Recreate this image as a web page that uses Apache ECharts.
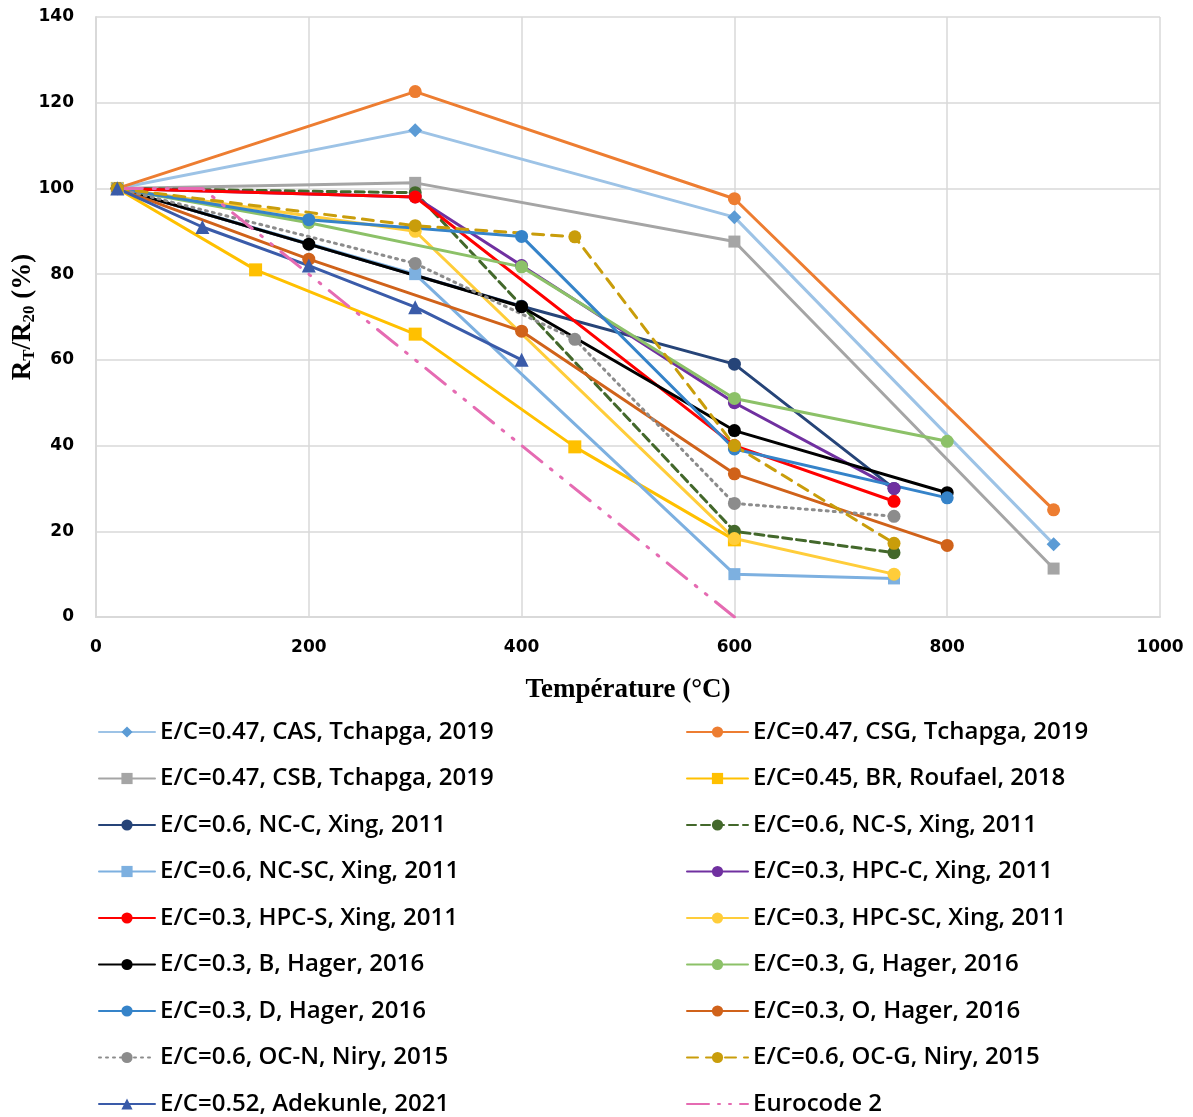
<!DOCTYPE html>
<html>
<head>
<meta charset="utf-8">
<script src="https://cdn.jsdelivr.net/npm/echarts@6/dist/echarts.min.js"></script>
<style>
html,body{margin:0;padding:0;background:#fff;}
#chart{width:1193px;height:1117px;}
</style>
</head>
<body>
<div id="chart"></div>
<script>
// ---- Data (temperature °C, R_T/R_20 %) ----
const names = [
  'E/C=0.47, CAS, Tchapga, 2019',
  'E/C=0.47, CSG, Tchapga, 2019',
  'E/C=0.47, CSB, Tchapga, 2019',
  'E/C=0.45, BR, Roufael, 2018',
  'E/C=0.6, NC-C, Xing, 2011',
  'E/C=0.6, NC-S, Xing, 2011',
  'E/C=0.6, NC-SC, Xing, 2011',
  'E/C=0.3, HPC-C, Xing, 2011',
  'E/C=0.3, HPC-S, Xing, 2011',
  'E/C=0.3, HPC-SC, Xing, 2011',
  'E/C=0.3, B, Hager, 2016',
  'E/C=0.3, G, Hager, 2016',
  'E/C=0.3, D, Hager, 2016',
  'E/C=0.3, O, Hager, 2016',
  'E/C=0.6, OC-N, Niry, 2015',
  'E/C=0.6, OC-G, Niry, 2015',
  'E/C=0.52, Adekunle, 2021',
  'Eurocode 2'
];
const tCAS = [20, 300, 600, 900];            const vCAS = [100, 113.6, 93.3, 17];
const tCSG = [20, 300, 600, 900];            const vCSG = [100, 122.6, 97.6, 25];
const tCSB = [20, 300, 600, 900];            const vCSB = [100, 101.3, 87.6, 11.3];
const tBR = [20, 150, 300, 450, 600];        const vBR = [100, 81, 66, 39.7, 18];
const tNCC = [20, 400, 600, 750];            const vNCC = [100, 72.5, 59, 30];
const tNCS = [20, 300, 600, 750];            const vNCS = [100, 99, 20, 15];
const tNCSC = [20, 300, 600, 750];           const vNCSC = [100, 80, 10, 9];
const tHPCC = [20, 300, 400, 600, 750];      const vHPCC = [100, 98, 82, 50, 30];
const tHPCS = [20, 300, 600, 750];           const vHPCS = [100, 98, 40, 27];
const tHPCSC = [20, 300, 600, 750];          const vHPCSC = [100, 90, 18.3, 10];
const tB = [20, 200, 400, 600, 800];         const vB = [100, 87, 72.4, 43.5, 29];
const tG = [20, 200, 400, 600, 800];         const vG = [100, 92, 81.7, 51, 41];
const tD = [20, 200, 400, 600, 800];         const vD = [100, 92.7, 88.8, 39.2, 27.8];
const tO = [20, 200, 400, 600, 800];         const vO = [100, 83.5, 66.7, 33.4, 16.7];
const tOCN = [20, 300, 450, 600, 750];       const vOCN = [100, 82.5, 64.8, 26.5, 23.5];
const tOCG = [20, 300, 450, 600, 750];       const vOCG = [100, 91.3, 88.7, 40, 17.2];
const tADE = [20, 100, 200, 300, 400];       const vADE = [100, 91, 82, 72.3, 60];
const tEC2 = [20, 100, 600];                 const vEC2 = [100, 100, 0];
const xTicks = [0, 200, 400, 600, 800, 1000];
const yTicks = [0, 20, 40, 60, 80, 100, 120, 140];

const temps = [tCAS, tCSG, tCSB, tBR, tNCC, tNCS, tNCSC, tHPCC, tHPCS, tHPCSC, tB, tG, tD, tO, tOCN, tOCG, tADE, tEC2];
const vals  = [vCAS, vCSG, vCSB, vBR, vNCC, vNCS, vNCSC, vHPCC, vHPCS, vHPCSC, vB, vG, vD, vO, vOCN, vOCG, vADE, vEC2];

// ---- Styles ----
const styles = [
  {line:'#9DC3E6', mark:'#5B9BD5', sym:'diamond', size:14, type:'solid'},
  {line:'#ED7D31', mark:'#ED7D31', sym:'circle', size:13, type:'solid'},
  {line:'#A5A5A5', mark:'#A5A5A5', sym:'rect', size:12, type:'solid'},
  {line:'#FFC000', mark:'#FFC000', sym:'rect', size:13, type:'solid'},
  {line:'#264478', mark:'#264478', sym:'circle', size:13, type:'solid'},
  {line:'#43682B', mark:'#43682B', sym:'circle', size:13, type:[9,5]},
  {line:'#7DB0E0', mark:'#7DB0E0', sym:'rect', size:12, type:'solid'},
  {line:'#7030A0', mark:'#7030A0', sym:'circle', size:13, type:'solid'},
  {line:'#FF0000', mark:'#FF0000', sym:'circle', size:13, type:'solid'},
  {line:'#FFCD3A', mark:'#FFCD3A', sym:'circle', size:13, type:'solid'},
  {line:'#000000', mark:'#000000', sym:'circle', size:13, type:'solid'},
  {line:'#8CC168', mark:'#8CC168', sym:'circle', size:13, type:'solid'},
  {line:'#3583C9', mark:'#3583C9', sym:'circle', size:13, type:'solid'},
  {line:'#D0621A', mark:'#D0621A', sym:'circle', size:13, type:'solid'},
  {line:'#8C8C8C', mark:'#8C8C8C', sym:'circle', size:13, type:[2,5]},
  {line:'#C99D0B', mark:'#C99D0B', sym:'circle', size:13, type:[11,8]},
  {line:'#3A5BA9', mark:'#3A5BA9', sym:'triangle', size:14, type:'solid'},
  {line:'#E56BB2', mark:'#E56BB2', sym:'none', size:0, type:[25,11,2,11,2,11]}
];

const series = names.map((n, i) => ({
  name: n,
  type: 'line',
  data: temps[i].map((t, j) => [t, vals[i][j]]),
  symbol: styles[i].sym,
  symbolSize: styles[i].size,
  showSymbol: styles[i].sym !== 'none',
  lineStyle: {color: styles[i].line, width: 3, type: styles[i].type, cap: 'round'},
  itemStyle: {color: styles[i].mark, borderWidth: 0},
  emphasis: {disabled: true},
  animation: false
}));

const legendItem = (n, i) => styles[i].sym === 'none'
  ? {name: n, itemStyle: {opacity: 0}, lineStyle: {type: [22, 9, 2, 9, 2, 9]}}
  : {name: n};
const leftNames = names.map(legendItem).filter((n, i) => i % 2 === 0);
const rightNames = names.map(legendItem).filter((n, i) => i % 2 === 1);
const legendText = {fontFamily: 'Open Sans', fontWeight: 600, fontSize: 24, color: '#000', lineHeight: 26};

const chart = echarts.init(document.getElementById('chart'));
chart.setOption({
  backgroundColor: '#fff',
  animation: false,
  grid: {left: 96, right: 33, top: 17, bottom: 500, containLabel: false, outerBoundsMode: 'none'},
  xAxis: {
    type: 'value', min: xTicks[0], max: xTicks[xTicks.length - 1], interval: 200,
    axisLine: {show: true, lineStyle: {color: '#D9D9D9', width: 2}},
    axisTick: {show: false},
    splitLine: {show: true, lineStyle: {color: '#D9D9D9', width: 1.5}},
    axisLabel: {fontFamily: 'DejaVu Sans', fontWeight: 'bold', fontSize: 17, color: '#000', margin: 22,
                formatter: v => String(v)},
    name: 'Température (°C)', nameLocation: 'middle', nameGap: 60, nameMoveOverlap: false,
    nameTextStyle: {fontFamily: 'Liberation Serif', fontWeight: 'bold', fontSize: 27, color: '#000'}
  },
  yAxis: {
    type: 'value', min: yTicks[0], max: yTicks[yTicks.length - 1], interval: 20,
    axisLine: {show: true, lineStyle: {color: '#D9D9D9', width: 2}},
    axisTick: {show: false},
    splitLine: {show: true, lineStyle: {color: '#D9D9D9', width: 1.5}},
    axisLabel: {fontFamily: 'DejaVu Sans', fontWeight: 'bold', fontSize: 17, color: '#000', margin: 22},
    name: '{a|R}{s|T}{a|/R}{s|20}{a| (%)}', nameLocation: 'middle', nameGap: 58, nameRotate: 90,
    nameMoveOverlap: false,
    nameTextStyle: {
      rich: {
        a: {fontFamily: 'Liberation Serif', fontWeight: 'bold', fontSize: 27, color: '#000'},
        s: {fontFamily: 'Liberation Serif', fontWeight: 'bold', fontSize: 17, color: '#000', padding: [13, 0, 0, 0]}
      }
    }
  },
  legend: [
    {data: leftNames, orient: 'vertical', left: 98, top: 719, padding: 0, height: 420,
     itemWidth: 56, itemHeight: 14, itemGap: 20.5, textStyle: legendText, selectedMode: false},
    {data: rightNames, orient: 'vertical', left: 686, top: 719, padding: 0, height: 420,
     itemWidth: 61, itemHeight: 14, itemGap: 20.5, textStyle: legendText, selectedMode: false}
  ],
  series: series
});
</script>
</body>
</html>
